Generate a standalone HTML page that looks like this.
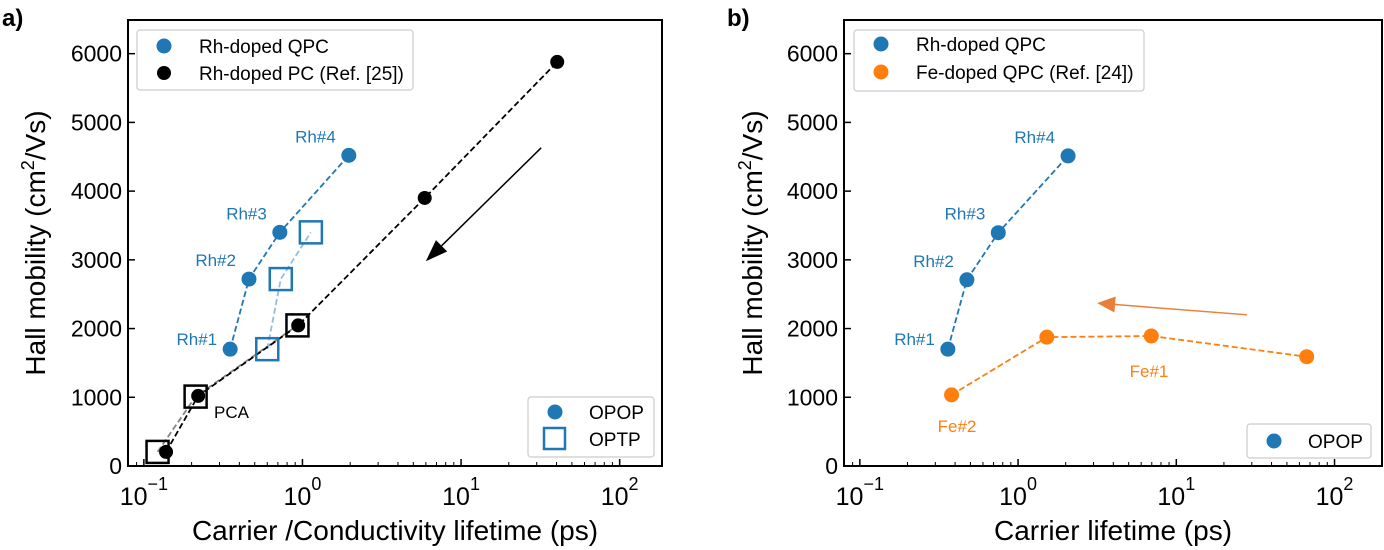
<!DOCTYPE html>
<html><head><meta charset="utf-8"><style>
html,body{margin:0;padding:0;background:#fff}
svg{display:block;font-family:"Liberation Sans",Arial,sans-serif}
</style></head><body>
<svg id="fig" width="1384" height="550" viewBox="0 0 1384 550" xmlns="http://www.w3.org/2000/svg"></svg>
<script>
// ---- data: panel a ----
const aQpcX = [0.35, 0.46, 0.72, 1.96];
const aQpcY = [1700, 2720, 3400, 4520];
const aQpcLabels = ["Rh#1", "Rh#2", "Rh#3", "Rh#4"];
const aOptpX = [0.60, 0.73, 1.13];
const aOptpY = [1700, 2720, 3400];
const aPcX = [0.138, 0.22, 0.94, 5.9, 40.4];
const aPcY = [205, 1020, 2046, 3900, 5880];
const aPcSqX = [0.122, 0.212, 0.93];
const aPcSqY = [205, 1010, 2046];
const aArrow = [[32, 4630], [6.0, 2980]];
// ---- data: panel b ----
const bQpcX = [0.36, 0.475, 0.75, 2.07];
const bQpcY = [1700, 2710, 3395, 4512];
const bFeX = [0.38, 1.52, 6.95, 66.7];
const bFeY = [1035, 1875, 1892, 1590];
const bArrow = [[28, 2200], [3.16, 2370]];
const yTicks = [0, 1000, 2000, 3000, 4000, 5000, 6000];
const xTickExp = [-1, 0, 1, 2];

const NS = "http://www.w3.org/2000/svg";
const svg = document.getElementById("fig");
function el(tag, attrs, parent, text) {
  const e = document.createElementNS(NS, tag);
  for (const k in attrs) e.setAttribute(k, attrs[k]);
  if (text !== undefined) e.textContent = text;
  (parent || svg).appendChild(e);
  return e;
}
const BLUE = "#1f77b4", ORANGE = "#ff7f0e";

function makeAxes(L, R, T, B, xmin, xmax, ymax) {
  return {
    x: v => L + (Math.log10(v) - xmin) / (xmax - xmin) * (R - L),
    y: v => B - v / ymax * (B - T),
    L, R, T, B, xmin, xmax
  };
}
const A = makeAxes(128, 662, 20, 466, -1.1, 2.267, 6490);
const Bx = makeAxes(844, 1382, 20, 466, -1.1, 2.3, 6490);

function drawFrame(ax, name) {
  const g = el("g", {});
  
  
  yTicks.forEach(t => {
    const y = ax.y(t);
    el("line", {x1: ax.L, x2: ax.L + 7, y1: y, y2: y, stroke: "#000", "stroke-width": 1.5}, g);
    const tl = el("text", {x: ax.L - 6, y: y + 8, "text-anchor": "end", "font-size": 23}, g, String(t));
    
    
  });
  for (let e = -2; e <= 2; e++) {
    for (let m = 1; m <= 9; m++) {
      const lv = e + Math.log10(m);
      if (lv < ax.xmin || lv > ax.xmax) continue;
      const x = ax.x(Math.pow(10, lv));
      const len = m === 1 ? 7 : 4;
      el("line", {x1: x, x2: x, y1: ax.B, y2: ax.B - len, stroke: "#000", "stroke-width": m === 1 ? 1.5 : 1}, g);
    }
  }
  xTickExp.forEach(e => {
    const x = ax.x(Math.pow(10, e));
    const t = el("text", {x: x, y: 505, "text-anchor": "middle", "font-size": 25}, g);
    
    
    el("tspan", {}, t, "10");
    el("tspan", {dy: -15, "font-size": 18}, t, e < 0 ? "\u2212" + (-e) : String(e));
  });
  el("rect", {x: ax.L, y: ax.T, width: ax.R - ax.L, height: ax.B - ax.T, fill: "none", stroke: "#000", "stroke-width": 2}, g);
}

function dashedLine(ax, xs, ys, color, name, opacity) {
  const pts = xs.map((v, i) => ax.x(v) + "," + ax.y(ys[i])).join(" ");
  const p = el("polyline", {points: pts, fill: "none", stroke: color, "stroke-width": 1.8, "stroke-dasharray": "6,3", opacity: opacity || 1});
  
  
}
function dots(ax, xs, ys, color, r, name) {
  xs.forEach((v, i) => {
    const c = el("circle", {cx: ax.x(v), cy: ax.y(ys[i]), r: r, fill: color});
    
    
  });
}
function squares(ax, xs, ys, color, name) {
  xs.forEach((v, i) => {
    const s = el("rect", {x: ax.x(v) - 11, y: ax.y(ys[i]) - 11, width: 22, height: 22, fill: "none", stroke: color, "stroke-width": 2.5});
    
    
  });
}
function txt(x, y, s, size, color, anchor, name, weight) {
  const t = el("text", {x: x, y: y, "font-size": size, fill: color, "text-anchor": anchor || "start", "font-weight": weight || "normal"}, svg, s);
  
  
  return t;
}
function arrow(ax, a, color, name, headW, headL) {
  const x1 = ax.x(a[0][0]), y1 = ax.y(a[0][1]), x2 = ax.x(a[1][0]), y2 = ax.y(a[1][1]);
  const dx = x2 - x1, dy = y2 - y1, len = Math.hypot(dx, dy), ux = dx / len, uy = dy / len;
  const bx = x2 - ux * headL, by = y2 - uy * headL;
  const g = el("g", {});
  
  
  el("line", {x1: x1, y1: y1, x2: bx, y2: by, stroke: color, "stroke-width": 1.5}, g);
  el("polygon", {points: `${x2},${y2} ${bx - uy * headW},${by + ux * headW} ${bx + uy * headW},${by - ux * headW}`, fill: color}, g);
}
function legendBox(x, y, w, h, name) {
  const r = el("rect", {x: x, y: y, width: w, height: h, rx: 3, fill: "#fff", stroke: "#ccc", "stroke-width": 1.2});
  
  
}

// ===== Panel a =====
txt(2, 26, "a)", 24, "#000", "start", "panel-a-label", "bold");
drawFrame(A, "panel-a");
dashedLine(A, aPcSqX, aPcSqY, "#777", "pc-optp-line", 0.9);
dashedLine(A, aOptpX, aOptpY, "#8fbfe0", "qpc-optp-line");
dashedLine(A, aQpcX, aQpcY, BLUE, "qpc-opop-line");
dashedLine(A, aPcX, aPcY, "#000", "pc-opop-line");
squares(A, aOptpX, aOptpY, BLUE, "qpc-optp-point");
squares(A, aPcSqX, aPcSqY, "#000", "pc-optp-point");
dots(A, aQpcX, aQpcY, BLUE, 7.5, "qpc-opop-point");
dots(A, aPcX, aPcY, "#000", 7, "pc-opop-point");
aQpcLabels.forEach((s, i) => {
  txt(A.x(aQpcX[i]) - 13, A.y(aQpcY[i]) - 4 - (i === 0 ? 0 : 9), s, 17, BLUE, "end", "qpc-point-label");
});
txt(214, 418, "PCA", 17, "#000", "start", "pca-label");
arrow(A, aArrow, "#000", "trend-arrow-a", 8, 22);
legendBox(137, 30, 276, 60, "legend-a-samples");
el("circle", {cx: 164, cy: 46, r: 7.5, fill: BLUE});
el("circle", {cx: 164, cy: 73, r: 7, fill: "#000"});
txt(199, 53, "Rh-doped QPC", 19, "#000", "start", "legend-entry-qpc");
txt(199, 80, "Rh-doped PC (Ref. [25])", 19, "#000", "start", "legend-entry-pc");
legendBox(528, 397, 126, 60, "legend-a-method");
el("circle", {cx: 555, cy: 412, r: 7.5, fill: BLUE});
el("rect", {x: 544, y: 428, width: 21, height: 21, fill: "none", stroke: BLUE, "stroke-width": 2.5});
txt(589, 419, "OPOP", 19, "#000", "start", "legend-entry-opop");
txt(589, 446, "OPTP", 19, "#000", "start", "legend-entry-optp");
const yla = txt(0, 0, "", 28, "#000", "middle", "y-axis-title-a");
yla.setAttribute("transform", "translate(45,243) rotate(-90)");
el("tspan", {}, yla, "Hall mobility (cm");
el("tspan", {dy: -11, "font-size": 18}, yla, "2");
el("tspan", {dy: 11}, yla, "/Vs)");
txt(395, 540, "Carrier /Conductivity lifetime (ps)", 28, "#000", "middle", "x-axis-title-a");

// ===== Panel b =====
txt(727, 26, "b)", 24, "#000", "start", "panel-b-label", "bold");
drawFrame(Bx, "panel-b");
dashedLine(Bx, bQpcX, bQpcY, BLUE, "qpc-line-b");
dashedLine(Bx, bFeX, bFeY, ORANGE, "fe-line-b");
dots(Bx, bQpcX, bQpcY, BLUE, 7.5, "qpc-point-b");
dots(Bx, bFeX, bFeY, ORANGE, 7.5, "fe-point-b");
aQpcLabels.forEach((s, i) => {
  txt(Bx.x(bQpcX[i]) - 13, Bx.y(bQpcY[i]) - 4 - (i === 0 ? 0 : 9), s, 17, BLUE, "end", "qpc-point-label-b");
});
txt(1149, 377, "Fe#1", 17, ORANGE, "middle", "fe1-label");
txt(957, 432, "Fe#2", 17, ORANGE, "middle", "fe2-label");
arrow(Bx, bArrow, "#e8803a", "trend-arrow-b", 8, 18);
legendBox(854, 30, 290, 61, "legend-b-samples");
el("circle", {cx: 881, cy: 44, r: 7.5, fill: BLUE});
el("circle", {cx: 881, cy: 72, r: 7.5, fill: ORANGE});
txt(916, 51, "Rh-doped QPC", 19, "#000", "start", "legend-entry-qpc-b");
txt(916, 79, "Fe-doped QPC (Ref. [24])", 19, "#000", "start", "legend-entry-fe");
legendBox(1247, 424, 124, 34, "legend-b-method");
el("circle", {cx: 1274, cy: 441, r: 7.5, fill: BLUE});
txt(1308, 448, "OPOP", 19, "#000", "start", "legend-entry-opop-b");
const ylb = txt(0, 0, "", 28, "#000", "middle", "y-axis-title-b");
ylb.setAttribute("transform", "translate(762,243) rotate(-90)");
el("tspan", {}, ylb, "Hall mobility (cm");
el("tspan", {dy: -11, "font-size": 18}, ylb, "2");
el("tspan", {dy: 11}, ylb, "/Vs)");
txt(1113, 540, "Carrier lifetime (ps)", 28, "#000", "middle", "x-axis-title-b");
</script>
</body></html>
